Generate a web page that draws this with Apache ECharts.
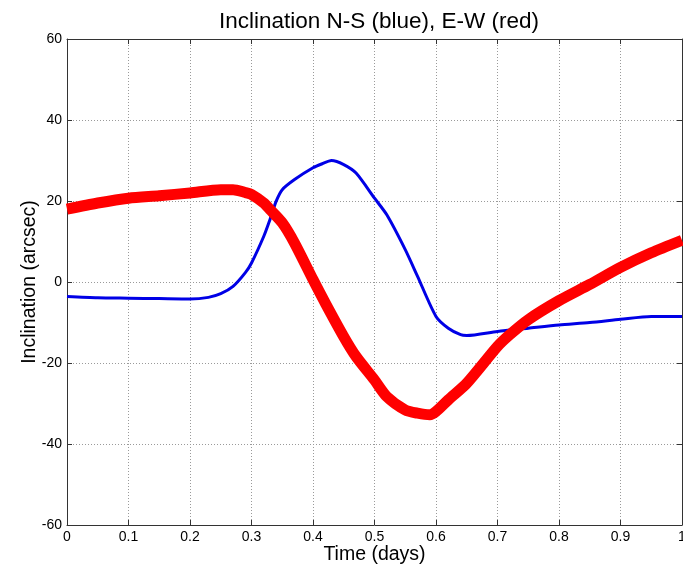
<!DOCTYPE html>
<html>
<head>
<meta charset="utf-8">
<script src="https://cdn.jsdelivr.net/npm/echarts@6/dist/echarts.min.js"></script>
<style>html,body{margin:0;padding:0;background:#fff;}#c{width:683px;height:569px;}</style>
</head>
<body>
<div id="c"></div>
<script>
var titleText = 'Inclination N-S (blue), E-W (red)';
var xName = 'Time (days)';
var yName = 'Inclination (arcsec)';
var xTicks = [0, 0.1, 0.2, 0.3, 0.4, 0.5, 0.6, 0.7, 0.8, 0.9, 1];
var yTicks = [-60, -40, -20, 0, 20, 40, 60];

var blueTimes = [0, 0.05, 0.1, 0.15, 0.2, 0.23, 0.25, 0.27, 0.29, 0.3, 0.32, 0.33, 0.34, 0.35, 0.37, 0.4, 0.415, 0.43, 0.45, 0.47, 0.5, 0.52, 0.55, 0.57, 0.6, 0.62, 0.64, 0.65, 0.7, 0.75, 0.8, 0.85, 0.9, 0.95, 1.0];
var blueValues = [-3.6, -3.9, -4.0, -4.1, -4.2, -3.8, -2.9, -1.1, 2.3, 4.7, 11.3, 15.4, 19.9, 22.8, 25.3, 28.2, 29.2, 30.0, 29.0, 26.9, 20.7, 16.6, 8.0, 1.4, -8.5, -11.4, -13.0, -13.2, -12.2, -11.4, -10.6, -10.0, -9.2, -8.5, -8.5];

var redTimes = [0, 0.05, 0.1, 0.15, 0.2, 0.25, 0.27, 0.29, 0.3, 0.32, 0.33, 0.35, 0.37, 0.4, 0.42, 0.45, 0.47, 0.5, 0.52, 0.55, 0.57, 0.59, 0.6, 0.62, 0.65, 0.7, 0.72, 0.75, 0.8, 0.85, 0.9, 0.95, 1.0];
var redValues = [18.0, 19.5, 20.7, 21.3, 22.0, 22.8, 22.8, 22.1, 21.6, 19.5, 17.9, 14.6, 9.6, 0.6, -5.2, -13.5, -18.4, -24.2, -28.3, -31.6, -32.4, -32.8, -32.0, -29.1, -25.0, -15.9, -13.0, -9.3, -4.6, -0.6, 3.6, 7.2, 10.3];

function pairs(ts, vs) { return ts.map(function (t, i) { return [t, vs[i]]; }); }

var FONT = 'Liberation Sans';
var axisColor = '#333';
var gridLine = { show: true, lineStyle: { color: '#9a9a9a', type: [1, 2], width: 1 } };

function xAx(pos, main) {
  return {
    type: 'value', position: pos, min: 0, max: 1, interval: 0.1,
    name: main ? xName : '', nameLocation: 'middle', nameGap: 20, nameMoveOverlap: false,
    nameTextStyle: { fontFamily: FONT, fontSize: 19.5, color: '#000' },
    axisLine: { show: true, onZero: false, lineStyle: { color: axisColor, width: 1 } },
    axisTick: { show: true, inside: true, length: 5, lineStyle: { color: axisColor } },
    axisLabel: { show: main, fontFamily: FONT, fontSize: 14, color: '#000', margin: 5, hideOverlap: false,
      formatter: function (v) { return xTicks.indexOf(Math.round(v * 10) / 10) >= 0 ? String(Math.round(v * 10) / 10) : ''; } },
    splitLine: main ? gridLine : { show: false }
  };
}
function yAx(pos, main) {
  return {
    type: 'value', position: pos, min: -60, max: 60, interval: 20,
    name: main ? yName : '', nameLocation: 'middle', nameGap: 27, nameRotate: 90, nameMoveOverlap: false,
    nameTextStyle: { fontFamily: FONT, fontSize: 19.5, color: '#000' },
    axisLine: { show: true, onZero: false, lineStyle: { color: axisColor, width: 1 } },
    axisTick: { show: true, inside: true, length: 5, lineStyle: { color: axisColor } },
    axisLabel: { show: main, fontFamily: FONT, fontSize: 14, color: '#000', margin: 5 },
    splitLine: main ? gridLine : { show: false }
  };
}

var chart = echarts.init(document.getElementById('c'), null, { renderer: 'canvas' });
chart.setOption({
  animation: false,
  backgroundColor: '#fff',
  title: { text: titleText, left: 214, top: 5, textStyle: { fontFamily: FONT, fontSize: 22.5, fontWeight: 'normal', color: '#000' } },
  grid: { left: 67, top: 39, right: 1, bottom: 44, containLabel: false, outerBoundsMode: 'none' },
  xAxis: [xAx('bottom', true), xAx('top', false)],
  yAxis: [yAx('left', true), yAx('right', false)],
  series: [
    { type: 'line', name: 'N-S', data: pairs(blueTimes, blueValues), showSymbol: false, smooth: 0.25,
      lineStyle: { color: '#0000e6', width: 3 }, z: 2 },
    { type: 'line', name: 'E-W', data: pairs(redTimes, redValues), showSymbol: false, smooth: 0.25,
      lineStyle: { color: '#ff0000', width: 11, cap: 'butt', join: 'round' }, z: 3 }
  ]
});
</script>
</body>
</html>
